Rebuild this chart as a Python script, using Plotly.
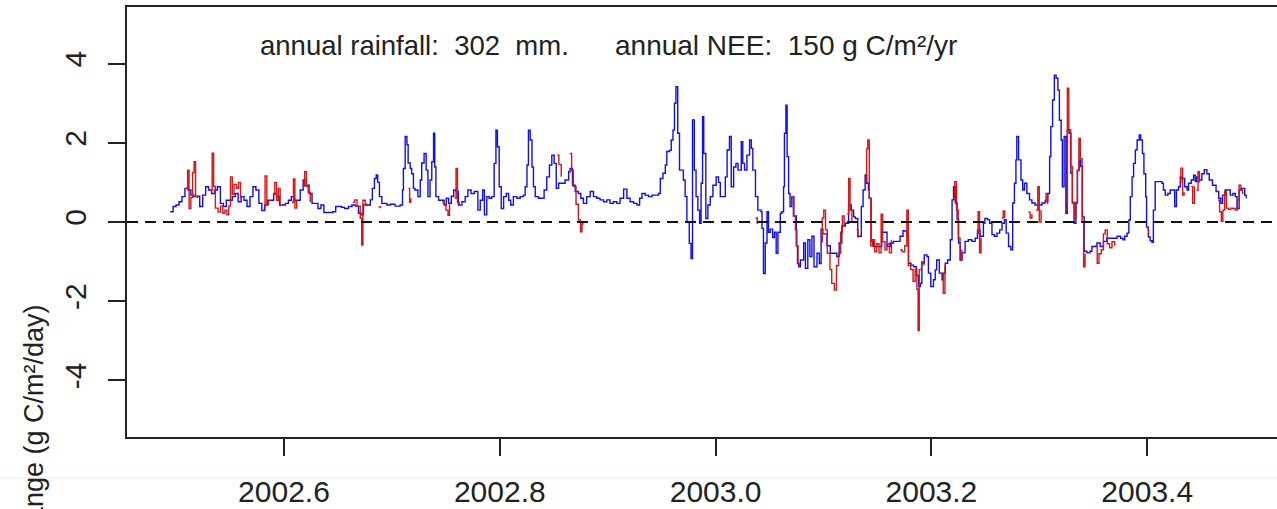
import plotly.graph_objects as go

# ---------------- data ----------------
start_year = 2002.4945          # first day of the record (decimal year)
days_per_year = 365.0

# measured daily NEE (day of record, g C/m2/day)
blue_points = [
    (0, 0.26), (1, 0.39), (2, 0.43), (3, 0.51), (4, 0.64), (5, 0.85), (6, 0.81), (7, 0.68), (8, 0.64), (9, 0.65),
    (10, 0.39), (11, 0.68), (12, 0.89), (13, 0.81), (14, 0.72), (15, 0.81), (16, 0.89), (17, 0.47), (18, 0.39),
    (19, 0.55), (20, 0.55), (21, 0.64), (22, 0.72), (23, 0.51), (24, 0.64), (25, 0.55), (26, 0.39), (27, 0.64),
    (28, 0.89), (29, 0.81), (30, 0.47), (31, 0.29), (32, 0.43), (33, 0.55), (35, 0.72), (36, 0.64), (37, 0.43),
    (38, 0.43), (39, 0.47), (40, 0.55), (41, 0.64), (42, 0.55), (43, 0.55), (44, 0.81), (45, 1.06), (46, 0.93),
    (47, 0.72), (48, 0.47), (50, 0.34), (51, 0.43), (52, 0.24), (53, 0.24), (55, 0.26), (56, 0.39), (58, 0.37),
    (59, 0.34), (60.3, 0.39), (61.5, 0.43), (62.6, 0.40), (63.7, 0.22), (64.6, 0.18), (65.4, 0.43), (66.5, 0.43),
    (67.7, 0.56), (68.4, 0.85), (69.1, 1.10), (69.7, 1.19), (70.2, 1.00), (70.8, 0.64), (71.6, 0.47), (73.3, 0.43),
    (74.5, 0.45), (76.1, 0.40), (77.8, 0.43), (78.6, 0.81), (78.9, 1.35), (79.5, 2.16), (80.1, 1.95), (80.5, 1.49),
    (81.2, 1.35), (81.7, 1.22), (82.3, 0.85), (82.8, 0.81), (83.8, 0.64), (84.6, 1.06), (85.1, 1.49), (85.9, 1.73),
    (86.6, 1.31), (87.2, 0.64), (87.9, 1.06), (88.5, 1.52), (89.1, 2.24), (89.5, 1.39), (89.9, 0.64), (90.8, 0.55),
    (91.9, 0.55), (92.7, 0.43), (93.4, 0.60), (94.2, 0.47), (95.1, 0.65), (95.9, 0.81), (96.6, 0.77), (97.5, 0.43),
    (98.7, 0.51), (99.8, 0.64), (100.7, 0.81), (101.8, 0.72), (102.9, 0.77), (104.1, 0.30), (104.9, 0.55),
    (105.7, 0.81), (106.3, 0.18), (107.1, 0.64), (107.9, 0.60), (108.8, 0.64), (109.6, 1.48), (110.2, 2.32),
    (110.7, 1.90), (111.3, 0.89), (112.0, 0.34), (112.8, 0.64), (113.7, 0.72), (114.5, 0.55), (115.2, 0.43),
    (116.1, 0.64), (117.3, 0.60), (118.4, 0.64), (119.5, 0.68), (120.1, 0.89), (120.7, 1.44), (121.2, 2.32),
    (121.8, 2.07), (122.4, 1.39), (122.9, 0.89), (123.5, 0.64), (124.6, 0.60), (125.7, 0.60), (126.5, 0.81),
    (127.4, 1.14), (128.3, 1.44), (129.1, 1.69), (129.9, 1.48), (130.6, 0.85), (131.4, 0.98), (132.5, 0.98),
    (133.6, 1.06), (134.8, 1.27), (135.3, 1.35), (136.1, 0.93), (137.0, 0.77), (138.1, 0.72), (138.9, 0.60),
    (139.8, 0.47), (140.9, 0.64), (142.1, 0.77), (143.2, 0.64), (144.3, 0.60), (145.4, 0.56), (146.6, 0.51),
    (147.7, 0.56), (148.8, 0.47), (149.9, 0.51), (151.1, 0.47), (152.2, 0.60), (153.4, 0.83), (154.5, 0.60),
    (155.6, 0.51), (156.8, 0.47), (157.9, 0.43), (158.8, 0.60), (159.6, 0.72), (160.7, 0.68), (161.8, 0.64),
    (163.0, 0.68), (164.1, 0.68), (165.2, 0.72), (165.8, 1.10), (166.7, 1.23), (167.5, 1.44), (168.0, 1.78),
    (168.9, 1.81), (169.5, 2.07), (170.1, 2.32), (170.6, 3.00), (171.1, 3.42), (171.7, 2.24), (172.3, 1.31),
    (173.1, 1.31), (173.6, 1.06), (174.2, 0.64), (174.8, 0.00), (175.6, -0.54), (176.2, -0.92), (176.7, 2.58),
    (177.3, 1.31), (177.9, 0.64), (178.5, 0.30), (179.1, -0.03), (179.6, 0.98), (180.1, 2.66), (180.5, 1.73),
    (181.2, 0.09), (181.9, 0.43), (182.7, 0.64), (183.6, 0.93), (184.7, 1.14), (185.5, 1.00), (186.1, 0.64),
    (187.2, 0.64), (187.8, 1.14), (188.4, 1.82), (189.2, 2.16), (189.8, 0.89), (190.6, 1.39), (191.4, 1.48),
    (192.1, 1.31), (193.2, 2.03), (193.7, 1.48), (194.3, 1.31), (195.1, 1.69), (196.0, 2.07), (196.6, 1.86),
    (197.1, 1.31), (198.0, 0.64), (198.8, 0.30), (199.9, 0.26), (200.2, -0.16), (200.7, -1.30), (201.3, -0.53),
    (201.9, 0.26), (202.4, -0.26), (203.0, -0.18), (203.8, -0.39), (204.4, -0.26), (205.0, -0.79), (205.6, -0.26),
    (206.4, 0.22), (206.9, 0.26), (207.5, 0.89), (207.8, 2.24), (208.3, 2.95), (208.7, 1.65), (209.2, 0.72),
    (209.7, 0.39), (210.3, 0.64), (211.0, 0.15), (211.8, -0.60), (212.2, -1.05), (212.6, -1.13), (213.2, -0.96),
    (214.3, -0.53), (214.9, -1.17), (215.7, -0.45), (216.4, -0.87), (217.1, -0.36), (217.8, -1.13), (218.8, -0.79),
    (219.6, -1.05), (220.2, -0.18), (220.8, -0.30), (222.2, -0.60), (223.3, -0.79), (224.4, -0.79), (225.5, -0.87),
    (226.3, -0.53), (227.2, -0.10), (228.4, -0.03), (229.5, 0.43), (230.4, 0.30), (231.2, 0.13), (231.8, 0.09),
    (232.6, -0.36), (233.2, -0.36), (233.8, 0.39), (234.4, 0.81), (235.1, 1.19), (235.6, 0.98), (236.2, 0.81),
    (236.5, 0.60), (237.1, -0.49), (237.9, -0.62), (239.0, -0.62), (240.2, -0.62), (240.7, -0.26), (241.6, -0.26),
    (242.5, -0.62), (243.6, -0.53), (244.7, -0.49), (245.8, -0.49), (246.9, -0.36), (247.9, -0.22), (248.5, -0.23),
    (249.2, -0.36), (249.8, -1.04), (250.6, -1.09), (251.5, -1.13), (252.4, -1.35), (253.2, -1.63), (253.8, -1.55),
    (254.3, -1.04), (255.1, -0.83), (256.0, -0.87), (256.5, -1.29), (257.3, -1.63), (258.2, -1.46), (258.8, -1.21),
    (259.3, -0.96), (260.2, -1.29), (261.1, -1.46), (261.6, -1.29), (262.2, -1.04), (263.0, -0.96), (263.9, -0.45),
    (264.5, 0.56), (265.0, 0.89), (265.6, 0.48), (266.2, 0.06), (266.7, -0.53), (267.3, -0.96), (267.9, -0.78),
    (268.9, -0.49), (270.0, -0.45), (271.2, -0.49), (272.3, -0.41), (273.1, -0.20), (274.0, -0.36), (275.1, -0.03),
    (275.6, 0.09), (276.5, 0.06), (277.2, -0.03), (278.0, -0.32), (278.8, -0.36), (279.7, -0.28), (280.6, -0.20),
    (281.4, -0.03), (282.2, 0.06), (282.8, -0.28), (283.6, -0.62), (284.4, -0.70), (285.0, 0.48), (285.6, 0.98),
    (286.1, 1.57), (286.4, 2.16), (287.0, 1.57), (287.8, 1.06), (288.4, 0.81), (289.0, 0.98), (289.8, 0.72),
    (290.7, 0.56), (291.5, 0.48), (292.6, 0.43), (293.7, 0.43), (294.9, 0.48), (296.0, 0.52), (296.9, 0.72),
    (297.5, 1.65), (297.9, 2.41), (298.5, 3.08), (299.1, 3.71), (299.7, 3.63), (300.3, 3.33), (300.8, 2.57),
    (301.4, 2.07), (301.8, 0.89), (302.4, 2.16), (303.0, 0.22), (303.5, 2.33), (304.1, 2.24), (304.7, 1.23),
    (305.2, 0.48), (305.8, -0.03), (306.4, 0.48), (306.9, 1.31), (307.5, 1.57), (308.0, 1.40), (308.6, 0.13),
    (309.2, -0.74), (310.1, -0.78), (311.2, -0.74), (311.8, -0.62), (313.5, -0.53), (314.6, -0.62), (315.7, -0.49),
    (316.8, -0.41), (318.6, -0.41), (320.3, -0.36), (321.5, -0.41), (322.3, -0.45), (322.9, -0.36), (323.7, -0.28),
    (324.3, 0.05), (324.8, 0.64), (325.4, 1.14), (325.9, 1.48), (326.5, 1.82), (327.1, 2.07), (327.8, 2.20),
    (328.3, 2.07), (328.9, 1.73), (329.4, 1.22), (330.0, 0.64), (330.3, -0.13), (330.9, -0.38), (331.5, -0.47),
    (332.1, -0.51), (332.6, 0.30), (333.2, 1.02), (334.3, 1.02), (335.5, 0.98), (336.0, 0.81), (336.6, 0.68),
    (337.5, 0.72), (338.3, 0.81), (339.1, 0.81), (339.8, 0.39), (340.4, 0.81), (341.1, 0.89), (341.7, 1.14),
    (342.3, 1.10), (343.2, 0.89), (344.0, 0.81), (344.5, 0.98), (345.4, 1.06), (346.2, 1.18), (346.8, 1.02),
    (347.3, 1.14), (348.1, 1.06), (349.0, 1.22), (349.8, 1.32), (350.7, 1.22), (351.5, 1.06), (352.6, 0.93),
    (353.8, 0.77), (354.7, 0.60), (355.4, 0.47), (356.0, 0.68), (356.9, 0.81), (357.8, 0.81), (358.6, 0.68),
    (359.5, 0.72), (360.3, 0.64), (360.9, 0.34), (361.6, 0.81), (362.4, 0.85), (363.5, 0.68), (364.0, 0.60),
]

# second (red) series, None marks gaps
red_points = [
    (5.4, 0.85), (5.9, 1.31), (6.4, 0.34), (7.0, 0.62), (7.6, 1.25), (8.1, 1.52), (8.6, 0.64), (9.3, 0.60), None,
    (13.5, 0.80), (14.2, 1.74), (14.7, 0.90), (15.3, 0.35), (16.2, 0.25), (17.0, 0.40), (17.8, 0.22), (18.5, 0.30),
    (19.2, 0.18), (19.8, 0.40), (20.4, 1.14), (21.0, 0.70), (21.6, 0.95), (22.4, 0.85), (23.1, 1.00), (23.8, 0.60), None,
    (31.6, 0.35), (32.1, 1.16), (32.7, 0.45), (33.3, 0.55), None,
    (34.8, 0.70), (35.4, 1.00), (36.0, 0.55), (36.6, 0.85), (37.2, 0.40), None,
    (41.2, 0.50), (41.7, 1.09), (42.2, 0.35), (42.8, 0.55), None,
    (45.0, 0.90), (45.5, 1.27), (46.1, 0.90), (46.7, 0.75), (47.4, 0.50), None,
    (61.8, 0.50), (62.4, 0.56), (63.2, 0.40), (64.3, 0.10), (64.8, -0.58), (65.2, 0.55), (66.0, 0.45), (66.6, 0.40), None,
    (70.5, 0.38), (71.2, 0.35), None,
    (80.6, 0.85), (81.0, 0.50), (81.4, 0.60), None,
    (92.0, 0.50), (92.6, 0.45), (93.3, 0.30), (94.0, 0.17), (94.5, 0.45), None,
    (96.2, 0.60), (96.7, 1.35), (97.2, 0.50), (97.8, 0.45), None,
    (130.9, 1.69), (131.5, 1.45), (132.3, 1.14), None,
    (135.2, 1.73), (135.8, 1.30), (136.4, 0.90), (137.3, 0.45), (138.1, 0.05), (138.8, -0.25), (139.3, -0.05),
    (139.6, 0.00), None,
    (198.0, 0.10), (198.6, -0.05), None,
    (210.3, 0.64), (210.8, 0.15), (211.5, -0.20), (212.0, -0.60), (212.4, -1.05), (212.8, -1.13), None,
    (220.0, -0.50), (220.6, 0.10), (221.1, 0.30), (221.7, -0.20), (222.3, -0.79), (223.2, -1.20), (223.8, -1.55),
    (224.7, -1.72), (225.4, -1.10), (226.1, -0.79), (226.8, -0.26), (227.4, 0.15), (228.0, -0.10), None,
    (229.0, 0.20), (229.5, 1.10), (230.0, 0.30), (230.6, 0.00), None,
    (232.2, -0.20), (232.7, -0.40), None,
    (235.2, 1.00), (235.6, 1.85), (236.0, 2.07), (236.5, 0.60), (237.0, -0.60), (237.6, -0.45), (238.3, -0.75),
    (239.0, -0.55), (239.8, -0.78), (240.5, 0.20), (241.0, -0.50), (241.8, -0.70), (242.5, -0.55), (243.3, -0.78),
    (244.0, -0.45), None,
    (247.0, -0.70), (247.6, -0.75), (248.5, -0.60), (249.2, 0.30), (249.7, -1.10), (250.5, -1.20), (251.3, -1.50),
    (252.0, -1.20), (252.6, -1.70), (253.0, -2.74), (253.4, -1.20), (254.2, -1.00), (255.0, -1.10), None,
    (260.8, -1.30), (261.5, -1.80), (262.1, -1.10), None,
    (264.9, 0.60), (265.4, 1.02), (266.0, 0.30), (266.6, -0.40), (267.2, -0.96), (267.8, -0.70), None,
    (272.8, -0.30), (273.3, 0.26), (273.8, -0.78), (274.3, -0.40), None,
    (281.3, 0.10), (281.8, 0.28), (282.3, 0.10), None,
    (290.3, 0.25), (290.9, 0.10), (291.5, 0.20), None,
    (292.8, 0.30), (293.5, 0.89), (294.0, 0.00), (294.6, 0.30), None,
    (295.8, 0.55), (296.3, 0.72), (296.8, 0.45), None,
    (302.9, 0.30), (303.5, 3.38), (304.0, 2.33), (304.6, 1.40), (305.2, 0.50), (305.8, 0.10), (306.4, 0.50),
    (306.9, 1.30), (307.4, 2.11), (307.9, 1.60), (308.5, 0.00), (309.0, -1.13), (309.5, -0.80), None,
    (313.0, -0.60), (313.6, -1.04), (314.2, -0.80), (315.0, -0.70), (315.7, -0.30), (316.3, -0.20), (317.0, -0.55),
    (317.8, -0.65), (318.6, -0.50), (319.5, -0.60), None,
    (330.5, -0.20), (331.0, -0.30), None,
    (341.5, 1.00), (341.9, 1.36), (342.5, 0.68), (343.0, 0.75), None,
    (345.4, 0.90), (345.9, 0.47), (346.5, 0.90), None,
    (347.2, 0.80), (347.7, 1.27), (348.2, 1.00), None,
    (354.5, 0.55), (355.0, 0.26), (355.6, 0.02), (356.1, 0.30), (356.7, 0.77), (357.3, 0.35), (358.0, 0.32),
    (358.8, 0.35), (359.5, 0.34), (360.3, 0.30), (361.0, 0.55), (361.6, 0.93), (362.2, 0.80), (362.8, 0.70),
]

x_tick_values = [2002.6, 2002.8, 2003.0, 2003.2, 2003.4]
x_tick_labels = ["2002.6", "2002.8", "2003.0", "2003.2", "2003.4"]
y_tick_values = [-4, -2, 0, 2, 4]
y_tick_labels = ["-4", "-2", "0", "2", "4"]
annual_rainfall_mm = 302
annual_nee = 150
y_title = "Net C exchange (g C/m²/day)"

# ---------------- build ----------------
def to_xy(points):
    xs, ys = [], []
    for p in points:
        if p is None:
            xs.append(None)
            ys.append(None)
        else:
            xs.append(start_year + p[0] / days_per_year)
            ys.append(p[1])
    return xs, ys

bx, by = to_xy(blue_points)
rx, ry = to_xy(red_points)

FONT = "Liberation Sans, Arial, sans-serif"
INK = "#222222"

fig = go.Figure()
fig.add_trace(go.Scatter(x=bx, y=by, mode="lines", line=dict(color="#1010e6", width=1.4, shape="hv"),
                         showlegend=False, hoverinfo="skip"))
fig.add_trace(go.Scatter(x=rx, y=ry, mode="lines", line=dict(color="#d01818", width=1.4, shape="hv"),
                         connectgaps=False, showlegend=False, hoverinfo="skip"))

# dashed zero line
fig.add_shape(type="line", xref="paper", x0=0, x1=1, yref="y", y0=0, y1=0,
              line=dict(color="#111111", width=2, dash="11px,7px"), layer="above")
# faint scan line below plot
fig.add_shape(type="line", xref="paper", x0=-0.12, x1=1, yref="paper", y0=-0.0953, y1=-0.0953,
              line=dict(color="#f1ecdc", width=1), layer="below")

nb = "\u00a0"
fig.add_annotation(xref="paper", yref="paper", x=0.1139, y=0.9116, xanchor="left", yanchor="middle",
                   text=f"annual rainfall:{nb}{nb}{annual_rainfall_mm}{nb}{nb}mm.", showarrow=False,
                   font=dict(family=FONT, size=27.5, color=INK))
fig.add_annotation(xref="paper", yref="paper", x=0.4226, y=0.9116, xanchor="left", yanchor="middle",
                   text=f"annual NEE:{nb}{nb}{annual_nee} g C/m²/yr", showarrow=False,
                   font=dict(family=FONT, size=28, color=INK))
fig.add_annotation(xref="paper", yref="paper", x=-0.0817, y=0.3116, xanchor="center", yanchor="top",
                   text=y_title, textangle=-90, showarrow=False,
                   font=dict(family=FONT, size=27, color=INK))

fig.update_layout(
    width=1277, height=509,
    margin=dict(l=127, r=0, t=7, b=72, autoexpand=False),
    paper_bgcolor="white", plot_bgcolor="white",
    font=dict(family=FONT, color=INK),
    xaxis=dict(range=[2002.4545, 2003.5203], showgrid=False, zeroline=False, automargin=False,
               showline=True, mirror=True, linecolor=INK, linewidth=1.8,
               ticks="outside", ticklen=17, tickwidth=1.5, tickcolor=INK,
               tickvals=x_tick_values, ticktext=x_tick_labels,
               tickfont=dict(family=FONT, size=30, color=INK), ticklabelstandoff=10),
    yaxis=dict(range=[-5.43, 5.43], showgrid=False, zeroline=False, automargin=False,
               showline=True, mirror=False, linecolor=INK, linewidth=1.8,
               ticks="outside", ticklen=17, tickwidth=1.5, tickcolor=INK,
               tickvals=y_tick_values, ticktext=y_tick_labels, tickangle=-90,
               tickfont=dict(family=FONT, size=30, color=INK), ticklabelstandoff=10),
)

fig.write_html("out.html")
